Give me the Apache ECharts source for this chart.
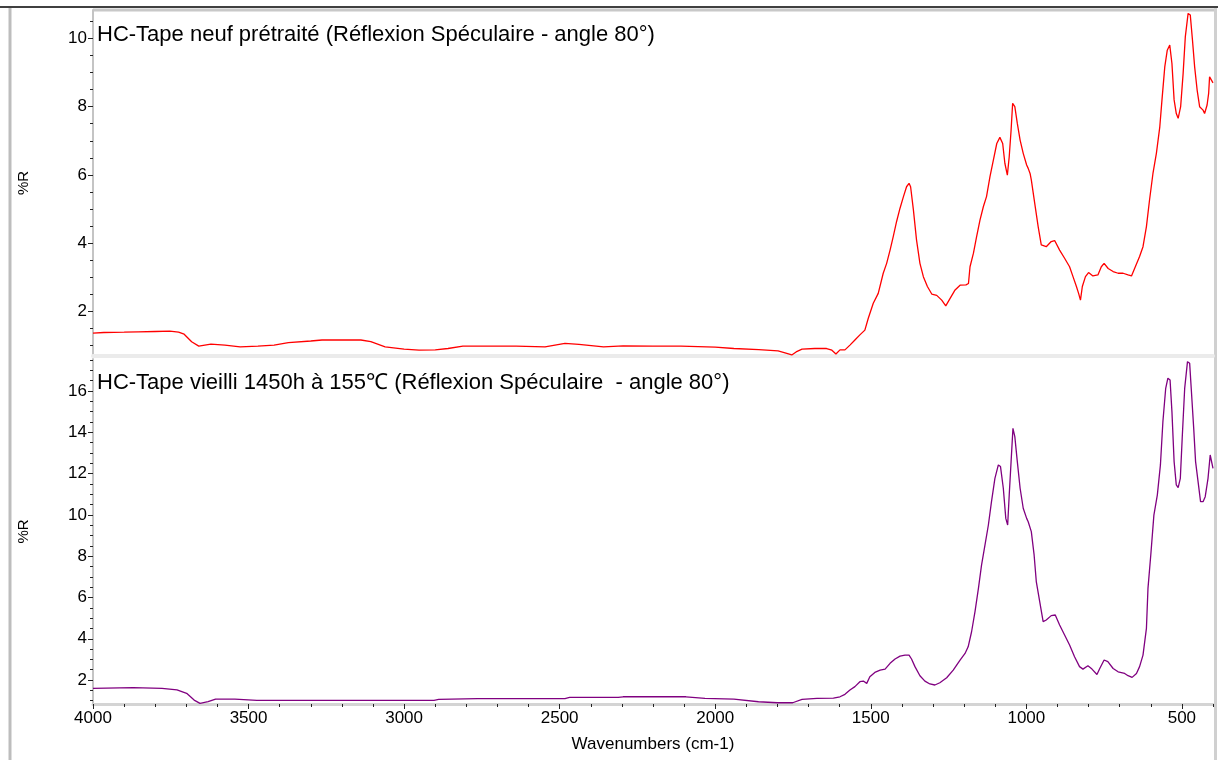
<!DOCTYPE html>
<html>
<head>
<meta charset="utf-8">
<script src="https://cdn.jsdelivr.net/npm/echarts@6.0.0/dist/echarts.min.js"></script>
<style>
  html, body { margin: 0; padding: 0; background: #ffffff; }
  #chart { width: 1218px; height: 760px; }
</style>
</head>
<body>
<div id="chart"></div>
<script>
// ---- Data ----
const titleTop = "HC-Tape neuf prétraité (Réflexion Spéculaire - angle 80°)";
const titleBottom = "HC-Tape vieilli 1450h à 155℃ (Réflexion Spéculaire  - angle 80°)";
const xAxisName = "Wavenumbers (cm-1)";
const yAxisName = "%R";

const xTickLabels = [4000, 3500, 3000, 2500, 2000, 1500, 1000, 500];
const yTopTickLabels = [2, 4, 6, 8, 10];
const yBottomTickLabels = [2, 4, 6, 8, 10, 12, 14, 16];

// Top spectrum (new, pretreated) - wavenumbers and %R
const redWn = [4000,3965,3900,3855,3800,3753,3725,3707,3683,3660,3621,3576,3527,3470,3418,3372,3300,3264,3200,3139,3107,3061,3000,2952,2900,2859,2811,2700,2640,2547,2483,2438,2359,2296,2200,2110,2000,1940,1860,1798,1770,1754,1740,1721,1680,1642,1625,1612,1599,1583,1567,1551,1535,1519,1508,1492,1476,1460,1449,1438,1428,1417,1406,1395,1385,1377,1372,1363,1353,1342,1331,1318,1304,1288,1272,1259,1245,1229,1213,1194,1186,1181,1170,1160,1149,1138,1128,1117,1106,1095,1085,1076,1069,1061,1055,1049,1044,1037,1029,1020,1010,999,994,988,984,973,962,952,936,920,909,893,877,861,850,839,832,826,820,810,800,786,770,759,750,737,721,705,689,673,662,652,636,625,614,604,593,582,571,564,555,547,539,532,525,518,512,504,496,489,480,473,466,459,451,443,432,427,419,414,411,405,400];
const redR = [1.35,1.37,1.38,1.39,1.40,1.41,1.38,1.32,1.10,0.97,1.03,1.00,0.95,0.97,1.00,1.07,1.12,1.15,1.15,1.15,1.10,0.95,0.88,0.85,0.86,0.90,0.97,0.97,0.97,0.95,1.05,1.02,0.95,0.98,0.97,0.97,0.94,0.90,0.87,0.83,0.76,0.71,0.80,0.88,0.90,0.90,0.85,0.74,0.86,0.86,1.00,1.15,1.30,1.44,1.79,2.23,2.52,3.11,3.40,3.79,4.18,4.63,5.02,5.36,5.65,5.75,5.65,4.97,4.09,3.40,3.01,2.72,2.50,2.46,2.32,2.15,2.37,2.62,2.76,2.77,2.81,3.30,3.70,4.18,4.67,5.07,5.36,5.94,6.43,6.92,7.10,6.92,6.34,5.99,6.53,7.31,8.10,8.00,7.51,7.02,6.63,6.29,6.19,6.04,5.85,5.16,4.48,3.94,3.89,4.04,4.07,3.79,3.55,3.30,3.01,2.72,2.52,2.32,2.72,3.01,3.13,3.03,3.06,3.30,3.40,3.25,3.16,3.11,3.11,3.06,3.03,3.25,3.60,3.89,4.48,5.26,6.04,6.63,7.41,8.20,9.17,9.66,9.81,9.27,8.20,7.80,7.66,8.00,8.98,10.05,10.74,10.69,9.96,9.17,8.49,8.00,7.90,7.80,8.05,8.39,8.88,8.78,8.70];

// Bottom spectrum (aged 1450 h at 155 °C) - wavenumbers and %R
const purWn = [4000,3871,3778,3730,3699,3675,3656,3630,3606,3544,3473,3200,2904,2889,2764,2600,2483,2468,2312,2296,2094,2033,1940,1861,1800,1751,1721,1673,1620,1599,1583,1567,1551,1535,1524,1513,1503,1487,1470,1454,1438,1422,1406,1390,1377,1369,1358,1342,1326,1310,1294,1278,1256,1235,1213,1197,1187,1176,1165,1154,1144,1133,1122,1112,1101,1090,1083,1074,1066,1060,1055,1049,1043,1037,1029,1020,1010,999,994,984,975,968,957,946,936,920,907,893,877,861,845,829,818,802,789,773,764,750,738,721,705,684,673,660,646,636,625,614,609,600,590,579,569,561,552,545,538,532,525,518,512,505,499,491,482,475,470,462,456,448,440,432,425,416,409,404,400];
const purR = [1.60,1.63,1.60,1.52,1.36,1.03,0.87,0.95,1.08,1.08,1.02,1.02,1.02,1.06,1.10,1.10,1.10,1.16,1.16,1.19,1.19,1.11,1.08,0.95,0.90,0.90,1.06,1.11,1.12,1.19,1.31,1.52,1.68,1.92,1.95,1.84,2.16,2.37,2.48,2.53,2.81,3.02,3.16,3.21,3.21,3.02,2.65,2.21,1.95,1.81,1.76,1.87,2.11,2.48,2.97,3.29,3.61,4.34,5.31,6.44,7.57,8.54,9.51,10.64,11.77,12.42,12.34,11.29,9.83,9.51,10.96,12.58,14.19,13.79,12.58,11.29,10.32,9.83,9.67,9.19,8.06,6.77,5.80,4.83,4.91,5.12,5.15,4.67,4.18,3.70,3.13,2.65,2.53,2.69,2.53,2.27,2.56,2.97,2.89,2.56,2.40,2.32,2.21,2.13,2.32,2.65,3.21,4.50,6.44,8.06,9.99,10.96,12.42,14.52,16.13,16.62,16.53,15.00,12.58,11.45,11.32,11.77,13.71,16.13,17.42,17.34,16.13,14.19,12.58,11.61,10.64,10.64,10.88,11.77,12.90,12.93,12.25];

// ---- Build ----
const FONT = "Liberation Sans, Arial, sans-serif";
const pairs = (xs, ys) => xs.map((x, i) => [x, ys[i]]);
const steps = (a, b, s) => { const r = []; for (let v = a; v <= b + 1e-9; v += s) r.push(+v.toFixed(2)); return r; };
const plain = v => String(v);

const yTopMinor = steps(1, 10.5, 0.5);
const yBotMinor = steps(1, 17.5, 0.5);

const chart = echarts.init(document.getElementById('chart'), null, { renderer: 'canvas' });

const baseX = {
  type: 'value', min: 400, max: 4000, inverse: true,
  splitLine: { show: false }, position: 'bottom'
};
const baseY = { type: 'value', position: 'left', splitLine: { show: false } };
const tickFont = { fontFamily: FONT, fontSize: 17, color: '#000' };

const option = {
  animation: false,
  backgroundColor: '#ffffff',
  title: [
    { text: titleTop, left: 97, top: 24, padding: 0,
      textStyle: { fontFamily: FONT, fontSize: 22, fontWeight: 'normal', color: '#000' } },
    { text: titleBottom, left: 97, top: 372, padding: 0,
      textStyle: { fontFamily: FONT, fontSize: 22, fontWeight: 'normal', color: '#000' } }
  ],
  grid: [
    { left: 93, right: 5, top: 10, height: 346 },
    { left: 93, right: 5, top: 359, height: 345 }
  ],
  xAxis: [
    Object.assign({}, baseX, {
      gridIndex: 0,
      axisLine: { show: true, onZero: false, lineStyle: { color: '#ebebeb', width: 4 } },
      axisTick: { show: false }, axisLabel: { show: false }
    }),
    Object.assign({}, baseX, {
      gridIndex: 1,
      name: xAxisName, nameLocation: 'middle', nameGap: 32,
      nameTextStyle: { fontFamily: FONT, fontSize: 17, color: '#000' },
      axisLine: { show: true, onZero: false, lineStyle: { color: '#d4d4d4', width: 3 } },
      axisTick: { show: true, customValues: xTickLabels, length: 5, lineStyle: { color: '#222', width: 1 } },
      axisLabel: Object.assign({ show: true, customValues: xTickLabels, margin: 6, formatter: plain }, tickFont)
    }),
    Object.assign({}, baseX, {
      gridIndex: 1, interval: 100,
      axisLine: { show: false, onZero: false },
      axisTick: { show: true, length: 3, lineStyle: { color: '#222', width: 1 } },
      axisLabel: { show: false }
    })
  ],
  yAxis: [
    Object.assign({}, baseY, {
      gridIndex: 0, min: 0.68, max: 10.84,
      name: yAxisName, nameLocation: 'middle', nameGap: 62,
      nameTextStyle: { fontFamily: FONT, fontSize: 15, color: '#000' },
      axisLine: { show: true, onZero: false, lineStyle: { color: '#c4c4c4', width: 2 } },
      axisTick: { show: true, customValues: yTopTickLabels, length: 5, lineStyle: { color: '#222' } },
      axisLabel: Object.assign({ show: true, customValues: yTopTickLabels, margin: 6, formatter: plain }, tickFont)
    }),
    Object.assign({}, baseY, {
      gridIndex: 0, min: 0.68, max: 10.84,
      axisLine: { show: false, onZero: false },
      axisTick: { show: true, customValues: yTopMinor, length: 3, lineStyle: { color: '#222' } },
      axisLabel: { show: false }
    }),
    Object.assign({}, baseY, {
      gridIndex: 1, min: 0.84, max: 17.55,
      name: yAxisName, nameLocation: 'middle', nameGap: 62,
      nameTextStyle: { fontFamily: FONT, fontSize: 15, color: '#000' },
      axisLine: { show: true, onZero: false, lineStyle: { color: '#c4c4c4', width: 2 } },
      axisTick: { show: true, customValues: yBottomTickLabels, length: 5, lineStyle: { color: '#222' } },
      axisLabel: Object.assign({ show: true, customValues: yBottomTickLabels, margin: 6, formatter: plain }, tickFont)
    }),
    Object.assign({}, baseY, {
      gridIndex: 1, min: 0.84, max: 17.55,
      axisLine: { show: false, onZero: false },
      axisTick: { show: true, customValues: yBotMinor, length: 3, lineStyle: { color: '#222' } },
      axisLabel: { show: false }
    })
  ],
  series: [
    { type: 'line', xAxisIndex: 0, yAxisIndex: 0, data: pairs(redWn, redR),
      showSymbol: false, symbol: 'none', clip: true,
      lineStyle: { color: '#ff0000', width: 1.3 } },
    { type: 'line', xAxisIndex: 1, yAxisIndex: 2, data: pairs(purWn, purR),
      showSymbol: false, symbol: 'none', clip: true,
      lineStyle: { color: '#800080', width: 1.3 } }
  ],
  graphic: [
    { type: 'line', shape: { x1: 0, y1: 7, x2: 1218, y2: 7 }, style: { stroke: '#000', lineWidth: 1.5 }, silent: true },
    { type: 'line', shape: { x1: 93, y1: 10, x2: 1214, y2: 10 }, style: { stroke: '#c8c8c8', lineWidth: 3 }, silent: true },
    { type: 'line', shape: { x1: 10, y1: 8, x2: 10, y2: 760 }, style: { stroke: '#bdbdbd', lineWidth: 3 }, silent: true },
    { type: 'line', shape: { x1: 1215.5, y1: 8, x2: 1215.5, y2: 760 }, style: { stroke: '#d0d0d0', lineWidth: 3 }, silent: true }
  ]
};

chart.setOption(option);
</script>
</body>
</html>
